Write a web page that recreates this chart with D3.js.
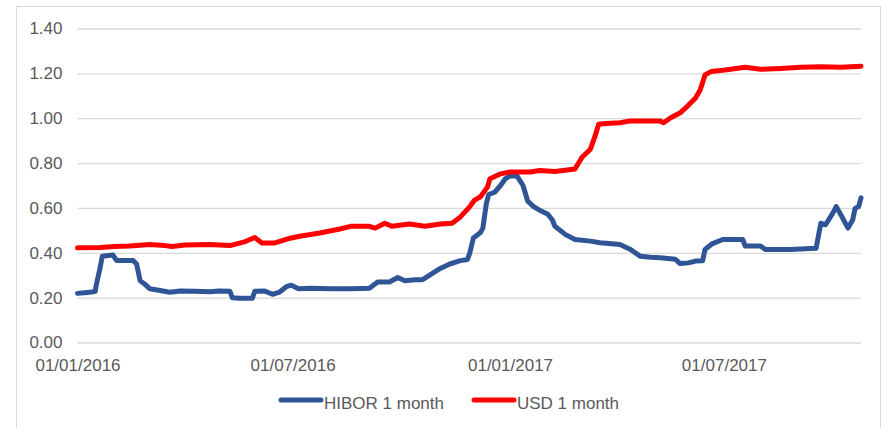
<!DOCTYPE html>
<html>
<head>
<meta charset="utf-8">
<script src="https://cdn.jsdelivr.net/npm/d3@7"></script>
<style>
  html, body { margin: 0; padding: 0; background: #fff; }
  svg { display: block; }
  text { font-family: "Liberation Sans", Arial, sans-serif; fill: #595959; }
</style>
</head>
<body>
<svg id="chart" width="882" height="428"></svg>
<script>
const hiborDates = ["2016-01-01","2016-01-07","2016-01-13","2016-01-16","2016-01-17","2016-01-20","2016-01-22","2016-01-31","2016-02-03","2016-02-17","2016-02-20","2016-02-23","2016-02-27","2016-03-02","2016-03-11","2016-03-19","2016-03-28","2016-04-09","2016-04-22","2016-04-30","2016-05-09","2016-05-11","2016-05-17","2016-05-28","2016-05-30","2016-06-07","2016-06-14","2016-06-20","2016-06-26","2016-06-30","2016-07-06","2016-07-16","2016-08-02","2016-08-19","2016-09-04","2016-09-11","2016-09-21","2016-09-28","2016-10-04","2016-10-13","2016-10-19","2016-10-25","2016-11-03","2016-11-11","2016-11-20","2016-11-26","2016-11-28","2016-12-01","2016-12-07","2016-12-09","2016-12-12","2016-12-14","2016-12-19","2016-12-24","2016-12-28","2017-01-01","2017-01-07","2017-01-12","2017-01-16","2017-01-21","2017-01-27","2017-02-02","2017-02-06","2017-02-08","2017-02-17","2017-02-25","2017-03-10","2017-03-18","2017-03-28","2017-04-04","2017-04-13","2017-04-21","2017-04-30","2017-05-08","2017-05-21","2017-05-25","2017-06-01","2017-06-07","2017-06-13","2017-06-15","2017-06-21","2017-06-30","2017-07-17","2017-07-19","2017-08-01","2017-08-05","2017-08-26","2017-09-17","2017-09-21","2017-09-25","2017-10-01","2017-10-04","2017-10-08","2017-10-14","2017-10-18","2017-10-20","2017-10-23","2017-10-25"];
const hiborValues = [0.219,0.222,0.225,0.228,0.26,0.33,0.385,0.39,0.366,0.366,0.35,0.275,0.26,0.24,0.232,0.224,0.23,0.228,0.226,0.23,0.228,0.2,0.197,0.197,0.228,0.23,0.215,0.225,0.25,0.255,0.24,0.242,0.24,0.24,0.242,0.27,0.27,0.29,0.275,0.28,0.28,0.30,0.33,0.35,0.365,0.37,0.40,0.466,0.49,0.51,0.62,0.66,0.67,0.70,0.73,0.742,0.742,0.70,0.63,0.606,0.587,0.572,0.545,0.518,0.481,0.459,0.452,0.445,0.44,0.437,0.415,0.385,0.38,0.378,0.371,0.352,0.355,0.363,0.365,0.415,0.44,0.459,0.459,0.43,0.43,0.415,0.415,0.42,0.532,0.525,0.576,0.606,0.569,0.51,0.547,0.598,0.606,0.645];

const usdDates = ["2016-01-01","2016-01-20","2016-02-01","2016-02-14","2016-03-02","2016-03-15","2016-03-21","2016-04-01","2016-04-22","2016-05-09","2016-05-22","2016-05-30","2016-06-05","2016-06-16","2016-06-29","2016-07-07","2016-07-24","2016-08-10","2016-08-19","2016-09-04","2016-09-09","2016-09-17","2016-09-23","2016-10-08","2016-10-21","2016-11-03","2016-11-13","2016-11-20","2016-11-28","2016-12-02","2016-12-07","2016-12-13","2016-12-15","2016-12-24","2017-01-01","2017-01-18","2017-01-26","2017-02-08","2017-02-25","2017-02-28","2017-03-03","2017-03-10","2017-03-14","2017-03-17","2017-03-23","2017-04-04","2017-04-13","2017-05-08","2017-05-11","2017-05-17","2017-05-25","2017-05-31","2017-06-07","2017-06-11","2017-06-15","2017-06-20","2017-07-02","2017-07-19","2017-08-01","2017-08-18","2017-09-04","2017-09-21","2017-10-08","2017-10-25"];
const usdValues = [0.422,0.424,0.428,0.43,0.437,0.432,0.428,0.435,0.437,0.432,0.45,0.468,0.444,0.444,0.465,0.474,0.488,0.506,0.518,0.518,0.51,0.532,0.518,0.528,0.518,0.528,0.532,0.56,0.606,0.635,0.65,0.694,0.73,0.752,0.76,0.76,0.767,0.762,0.774,0.80,0.826,0.862,0.921,0.973,0.976,0.98,0.988,0.988,0.98,1.002,1.024,1.053,1.09,1.127,1.193,1.208,1.215,1.227,1.218,1.222,1.227,1.23,1.227,1.232];

const yTicks = [0, 0.2, 0.4, 0.6, 0.8, 1.0, 1.2, 1.4];
const xTickDates = ["2016-01-01","2016-07-01","2017-01-01","2017-07-01"];
const xTickLabels = ["01/01/2016","01/07/2016","01/01/2017","01/07/2017"];
const seriesNames = ["HIBOR 1 month", "USD 1 month"];
const seriesColors = ["#2F5597", "#FF0000"];

const parse = d3.timeParse("%Y-%m-%d");
const hibor = hiborDates.map((d, i) => ({date: parse(d), value: hiborValues[i]}));
const usd = usdDates.map((d, i) => ({date: parse(d), value: usdValues[i]}));

const svg = d3.select("#chart");

// outer frame
svg.append("rect").attr("x", 16.5).attr("y", 6.5).attr("width", 864).attr("height", 430)
  .attr("fill", "none").attr("stroke", "#D9D9D9").attr("stroke-width", 1);

const x = d3.scaleTime()
  .domain([parse("2016-01-01"), parse("2017-10-25")])
  .range([77.5, 861]);
const y = d3.scaleLinear().domain([0, 1.4]).range([342.5, 28.5]);

// gridlines + y labels
const yAxis = d3.axisLeft(y).tickValues(yTicks).tickSize(-(861 - 77.5)).tickPadding(15)
  .tickFormat(d3.format(".2f"));
const gy = svg.append("g").attr("transform", "translate(77.5,0)").call(yAxis);
gy.select(".domain").remove();
gy.selectAll(".tick line").attr("stroke", "#D9D9D9").attr("stroke-width", 1.3);
gy.selectAll(".tick text").attr("font-size", 17).attr("fill", "#595959")
  .attr("font-family", "Liberation Sans, Arial, sans-serif").attr("x", -15);

// x labels
const xAxis = d3.axisBottom(x).tickValues(xTickDates.map(parse)).tickSize(0).tickPadding(0)
  .tickFormat((d, i) => xTickLabels[i]);
const gx = svg.append("g").attr("transform", "translate(0,342.5)").call(xAxis);
gx.select(".domain").remove();
gx.selectAll(".tick text").attr("font-size", 17).attr("fill", "#595959")
  .attr("font-family", "Liberation Sans, Arial, sans-serif").attr("dy", null).attr("y", 28);

const line = d3.line().x(d => x(d.date)).y(d => y(d.value));

svg.append("path").datum(hibor).attr("d", line).attr("fill", "none")
  .attr("stroke", seriesColors[0]).attr("stroke-width", 5)
  .attr("stroke-linejoin", "round").attr("stroke-linecap", "round");
svg.append("path").datum(usd).attr("d", line).attr("fill", "none")
  .attr("stroke", seriesColors[1]).attr("stroke-width", 5)
  .attr("stroke-linejoin", "round").attr("stroke-linecap", "round");

// legend
const legendX = [281, 474];
seriesNames.forEach((name, i) => {
  const g = svg.append("g").attr("transform", `translate(${legendX[i]},400)`);
  g.append("line").attr("x1", 0).attr("x2", 40).attr("y1", 0).attr("y2", 0)
    .attr("stroke", seriesColors[i]).attr("stroke-width", 5).attr("stroke-linecap", "round");
  g.append("text").attr("x", 43).attr("y", 9).attr("font-size", 17).text(name);
});
</script>
</body>
</html>
